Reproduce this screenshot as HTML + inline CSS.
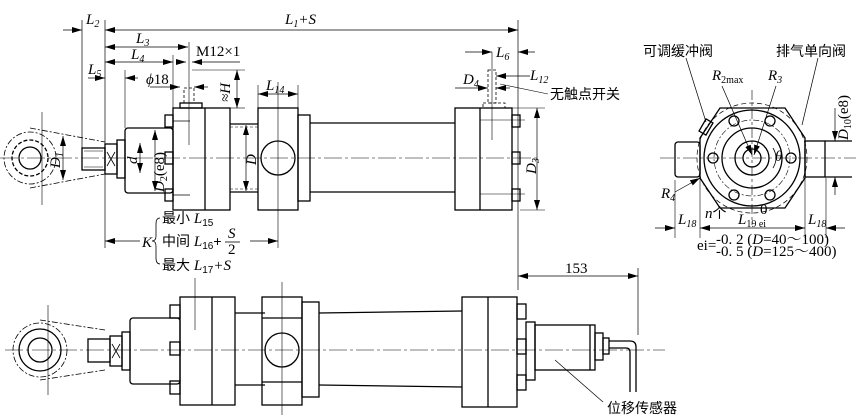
<!DOCTYPE html>
<html><head><meta charset="utf-8"><style>
body{margin:0;background:#fff}
svg{display:block}
text{font-family:"Liberation Serif","Noto Serif CJK SC",serif;font-size:15px;fill:#000}
.c{font-family:"Liberation Sans","Noto Sans CJK SC",sans-serif;font-size:14px}
.i{font-style:italic}
</style></head><body>
<svg width="856" height="420" viewBox="0 0 856 420" xmlns="http://www.w3.org/2000/svg">
<defs>
<marker id="a" viewBox="0 0 10 6" refX="10" refY="3" markerWidth="10" markerHeight="6" orient="auto-start-reverse" markerUnits="userSpaceOnUse"><path d="M0,0L10,3L0,6z"/></marker>
</defs>
<g fill="none" stroke="#000" stroke-width="1.3">
<!-- TOP VIEW -->
<line x1="0" y1="158" x2="540" y2="158" stroke-width="0.6" stroke-dasharray="18,3,3,3"/>
<circle cx="30" cy="158" r="26" stroke-dasharray="6,2,2,2" stroke-width="0.8"/>
<circle cx="30" cy="158" r="18" stroke-dasharray="4,2"/>
<circle cx="30" cy="158" r="11"/>
<path d="M30,128 L105,142 M30,188 L105,174" stroke-dasharray="6,2,2,2" stroke-width="0.8"/>
<line x1="42" y1="112" x2="42" y2="205" stroke-width="0.6"/>
<rect x="82" y="148" width="23" height="22"/><line x1="84" y1="151" x2="103" y2="151" stroke-width="0.6"/><line x1="84" y1="167" x2="103" y2="167" stroke-width="0.6"/>
<rect x="105" y="144" width="12" height="30"/><path d="M107,152L115,166M115,152L107,166" stroke-width="0.8"/>
<rect x="117" y="140" width="8" height="38"/>
<rect x="125" y="128" width="48" height="65" rx="3"/>
<rect x="173" y="108" width="57" height="102"/><line x1="205" y1="108" x2="205" y2="210"/>
<rect x="165" y="115" width="8" height="12"/><rect x="165" y="152" width="8" height="12"/><rect x="165" y="189" width="8" height="12"/>
<line x1="173" y1="121" x2="190" y2="121" stroke-width="0.7"/><line x1="173" y1="195" x2="190" y2="195" stroke-width="0.7"/>
<rect x="180" y="103" width="22" height="5"/><rect x="184" y="88" width="10" height="15" stroke-dasharray="3,2" stroke-width="0.8"/>
<line x1="189" y1="42" x2="189" y2="145" stroke-width="0.6"/>
<line x1="230" y1="124" x2="258" y2="124"/><line x1="230" y1="192" x2="258" y2="192"/>
<line x1="230" y1="127" x2="258" y2="127" stroke-dasharray="3,2" stroke-width="0.6"/><line x1="230" y1="189" x2="258" y2="189" stroke-dasharray="3,2" stroke-width="0.6"/>
<rect x="258" y="108" width="40" height="102"/><circle cx="278" cy="158" r="17"/>
<line x1="278" y1="82" x2="278" y2="248" stroke-width="0.6"/>
<rect x="298" y="115" width="12" height="86"/>
<line x1="310" y1="123" x2="455" y2="123"/><line x1="310" y1="192" x2="455" y2="192"/>
<rect x="455" y="108" width="57" height="102"/><line x1="480" y1="108" x2="480" y2="210"/>
<rect x="512" y="115" width="8" height="12"/><rect x="512" y="152" width="8" height="12"/><rect x="512" y="189" width="8" height="12"/>
<line x1="480" y1="120" x2="525" y2="120" stroke-width="0.6"/><line x1="480" y1="194" x2="525" y2="194" stroke-width="0.6"/>
<rect x="483" y="103" width="22" height="5" stroke-dasharray="3,2" stroke-width="0.8"/><rect x="488" y="70" width="8" height="33" stroke-dasharray="3,2" stroke-width="0.8"/>
<line x1="492" y1="52" x2="492" y2="140" stroke-width="0.6"/>
<!-- dims top -->
<line x1="82" y1="20" x2="82" y2="150" stroke-width="0.7"/><line x1="105" y1="20" x2="105" y2="248" stroke-width="0.7"/>
<line x1="518" y1="20" x2="518" y2="290" stroke-width="0.7"/>
<line x1="63" y1="30" x2="82" y2="30" marker-end="url(#a)" stroke-width="0.7"/>
<line x1="105" y1="30" x2="518" y2="30" marker-start="url(#a)" marker-end="url(#a)" stroke-width="0.7"/>
<line x1="105" y1="47" x2="188" y2="47" marker-start="url(#a)" marker-end="url(#a)" stroke-width="0.7"/>
<line x1="105" y1="62" x2="173" y2="62" marker-start="url(#a)" marker-end="url(#a)" stroke-width="0.7"/>
<line x1="173" y1="55" x2="173" y2="108" stroke-width="0.6"/>
<line x1="88" y1="78" x2="105" y2="78" marker-end="url(#a)" stroke-width="0.7"/><line x1="125" y1="78" x2="138" y2="78" marker-start="url(#a)" stroke-width="0.7"/>
<line x1="125" y1="70" x2="125" y2="128" stroke-width="0.6"/>
<line x1="176" y1="62" x2="186" y2="62" marker-end="url(#a)" stroke-width="0.7"/><line x1="192" y1="62" x2="240" y2="62" marker-start="url(#a)" stroke-width="0.7"/>
<line x1="150" y1="87" x2="180" y2="87" marker-end="url(#a)" stroke-width="0.7"/><line x1="194" y1="87" x2="208" y2="87" marker-start="url(#a)" stroke-width="0.7"/>
<line x1="192" y1="70" x2="245" y2="70" stroke-width="0.6"/><line x1="230" y1="108" x2="245" y2="108" stroke-width="0.6"/>
<line x1="237" y1="70" x2="237" y2="108" marker-start="url(#a)" marker-end="url(#a)" stroke-width="0.7"/>
<line x1="258" y1="85" x2="258" y2="108" stroke-width="0.6"/><line x1="298" y1="85" x2="298" y2="115" stroke-width="0.6"/>
<line x1="258" y1="94" x2="298" y2="94" marker-start="url(#a)" marker-end="url(#a)" stroke-width="0.7"/>
<line x1="246" y1="125" x2="246" y2="191" marker-start="url(#a)" marker-end="url(#a)" stroke-width="0.7"/>
<line x1="140" y1="143" x2="140" y2="173" marker-start="url(#a)" marker-end="url(#a)" stroke-width="0.7"/>
<line x1="155" y1="130" x2="155" y2="191" marker-start="url(#a)" marker-end="url(#a)" stroke-width="0.7"/>
<line x1="105" y1="241" x2="140" y2="241" marker-start="url(#a)" stroke-width="0.7"/><line x1="250" y1="241" x2="278" y2="241" marker-end="url(#a)" stroke-width="0.7"/>
<path d="M160,218 q-4,0 -4,6 v12 q0,5 -4,5 q4,0 4,5 v12 q0,6 4,6" stroke-width="0.8"/>
<line x1="63" y1="136" x2="63" y2="180" marker-start="url(#a)" marker-end="url(#a)" stroke-width="0.7"/>
<line x1="465" y1="52" x2="492" y2="52" marker-end="url(#a)" stroke-width="0.7"/><line x1="518" y1="52" x2="535" y2="52" marker-start="url(#a)" stroke-width="0.7"/>
<line x1="496" y1="76" x2="530" y2="76" marker-start="url(#a)" stroke-width="0.7"/>
<line x1="455" y1="88" x2="488" y2="88" marker-end="url(#a)" stroke-width="0.7"/><line x1="496" y1="88" x2="510" y2="88" marker-start="url(#a)" stroke-width="0.7"/>
<line x1="500" y1="84" x2="548" y2="94" stroke-width="0.6"/>
<line x1="512" y1="108" x2="545" y2="108" stroke-width="0.6"/><line x1="520" y1="210" x2="545" y2="210" stroke-width="0.6"/>
<line x1="537" y1="108" x2="537" y2="210" marker-start="url(#a)" marker-end="url(#a)" stroke-width="0.7"/>
<line x1="518" y1="276" x2="638" y2="276" marker-start="url(#a)" marker-end="url(#a)" stroke-width="0.7"/>
<line x1="638" y1="268" x2="638" y2="335" stroke-width="0.7"/>
<!-- END VIEW -->
<line x1="660" y1="158" x2="856" y2="158" stroke-width="0.6" stroke-dasharray="14,3,3,3"/>
<line x1="752" y1="90" x2="752" y2="225" stroke-width="0.6" stroke-dasharray="10,3,3,3"/>
<path d="M700,138 L720,108 L785,108 L805,138 L805,178 L785,208 L720,208 L700,178 Z"/>
<circle cx="752" cy="158" r="55" stroke-dasharray="5,3" stroke-width="0.7"/>
<circle cx="752" cy="158" r="48"/>
<circle cx="752" cy="158" r="38" stroke-dasharray="6,2,2,2" stroke-width="0.6"/>
<circle cx="752" cy="158" r="30"/><circle cx="752" cy="158" r="17"/><circle cx="752" cy="158" r="9"/>
<circle cx="734" cy="121" r="5"/><circle cx="770" cy="121" r="5"/><circle cx="713" cy="158" r="5"/><circle cx="791" cy="158" r="5"/><circle cx="734" cy="195" r="5"/><circle cx="770" cy="195" r="5"/>
<rect x="675" y="142" width="25" height="35" rx="3"/>
<rect x="805" y="141" width="20" height="36"/><line x1="825" y1="141" x2="852" y2="141"/><line x1="825" y1="177" x2="852" y2="177"/>
<rect x="702" y="120" width="8" height="14" transform="rotate(30 706 127)"/>
<line x1="686" y1="58" x2="706" y2="122" stroke-width="0.7"/>
<line x1="818" y1="58" x2="802" y2="125" stroke-width="0.7"/>
<line x1="722" y1="86" x2="752" y2="155" marker-end="url(#a)" stroke-width="0.7"/>
<line x1="776" y1="86" x2="754" y2="155" marker-end="url(#a)" stroke-width="0.7"/>
<line x1="675" y1="192" x2="700" y2="178" marker-end="url(#a)" stroke-width="0.7"/>
<path d="M773,148 q6,10 0,20" stroke-width="0.8"/>
<line x1="675" y1="180" x2="675" y2="238" stroke-width="0.6"/><line x1="700" y1="178" x2="700" y2="238" stroke-width="0.6"/>
<line x1="805" y1="178" x2="805" y2="238" stroke-width="0.6"/><line x1="826" y1="178" x2="826" y2="238" stroke-width="0.6"/>
<line x1="655" y1="228" x2="675" y2="228" marker-end="url(#a)" stroke-width="0.7"/>
<line x1="700" y1="228" x2="805" y2="228" marker-start="url(#a)" marker-end="url(#a)" stroke-width="0.7"/>
<line x1="845" y1="228" x2="826" y2="228" marker-end="url(#a)" stroke-width="0.7"/>
<line x1="835" y1="108" x2="835" y2="141" marker-end="url(#a)" stroke-width="0.7"/><line x1="835" y1="195" x2="835" y2="177" marker-end="url(#a)" stroke-width="0.7"/>
<!-- BOTTOM VIEW -->
<line x1="5" y1="350" x2="665" y2="350" stroke-width="0.6" stroke-dasharray="18,3,3,3"/>
<circle cx="40" cy="350" r="27" stroke-dasharray="6,2,2,2" stroke-width="0.8"/>
<circle cx="40" cy="350" r="21"/><circle cx="40" cy="350" r="12"/>
<path d="M40,320 L105,330 M40,380 L105,370" stroke-dasharray="6,2,2,2" stroke-width="0.8"/>
<line x1="48" y1="305" x2="48" y2="395" stroke-width="0.6"/>
<rect x="88" y="339" width="22" height="23"/>
<rect x="110" y="336" width="12" height="30"/><path d="M112,344L120,358M120,344L112,358" stroke-width="0.8"/>
<rect x="122" y="332" width="8" height="38"/>
<rect x="130" y="318" width="50" height="66" rx="3"/>
<rect x="180" y="297" width="55" height="108"/><line x1="212" y1="297" x2="212" y2="405"/>
<rect x="170" y="305" width="10" height="13"/><rect x="170" y="342" width="10" height="13"/><rect x="170" y="381" width="10" height="13"/>
<line x1="195" y1="278" x2="195" y2="330" stroke-width="0.6"/>
<line x1="235" y1="313" x2="265" y2="313"/><line x1="235" y1="385" x2="265" y2="385"/>
<rect x="262" y="297" width="40" height="108"/><circle cx="282" cy="350" r="17"/>
<line x1="262" y1="318" x2="302" y2="318"/><line x1="262" y1="382" x2="302" y2="382"/>
<line x1="282" y1="282" x2="282" y2="415" stroke-width="0.6"/>
<rect x="302" y="302" width="17" height="95"/>
<line x1="319" y1="313" x2="462" y2="311"/><line x1="319" y1="385" x2="462" y2="387"/>
<rect x="462" y="297" width="55" height="110"/><line x1="488" y1="297" x2="488" y2="407"/>
<rect x="517" y="304" width="9" height="15"/><rect x="517" y="339" width="9" height="15"/><rect x="517" y="375" width="9" height="15"/>
<rect x="526" y="322" width="9" height="58"/>
<rect x="535" y="325" width="60" height="45"/><line x1="590" y1="325" x2="590" y2="370"/>
<rect x="595" y="333" width="8" height="27"/><rect x="603" y="338" width="6" height="16"/>
<path d="M609,341 H630 q6,0 6,6 V392 M609,348 H626 q4,0 4,4 V392"/>
<line x1="555" y1="360" x2="603" y2="402" stroke-width="0.7"/>
</g>
<!-- TEXT -->
<text x="86" y="24" class="i">L<tspan font-size="10" dy="3">2</tspan></text>
<text x="285" y="24" class="i">L<tspan font-size="10" dy="3">1</tspan><tspan dy="-3">+S</tspan></text>
<text x="136" y="43" class="i">L<tspan font-size="10" dy="3">3</tspan></text>
<text x="131" y="59" class="i">L<tspan font-size="10" dy="3">4</tspan></text>
<text x="196" y="56">M12×1</text>
<text x="88" y="74" class="i">L<tspan font-size="10" dy="3">5</tspan></text>
<text x="146" y="84"><tspan class="i">ϕ</tspan>18</text>
<text x="0" y="0" class="i" transform="translate(230,102) rotate(-90)">≈H</text>
<text x="266" y="90" class="i">L<tspan font-size="10" dy="3">14</tspan></text>
<text x="0" y="0" class="i" transform="translate(256,165) rotate(-90)">D</text>
<text x="0" y="0" class="i" transform="translate(137,164) rotate(-90)">d</text>
<text x="0" y="0" transform="translate(164,192) rotate(-90)"><tspan class="i">D</tspan><tspan font-size="10" dy="3">2</tspan><tspan dy="-3">(e8)</tspan></text>
<text x="0" y="0" class="i" transform="translate(60,168) rotate(-90)">D<tspan font-size="10" dy="3">1</tspan></text>
<text x="142" y="247" class="i">K</text>
<text x="162" y="223" class="c">最小 <tspan class="i" font-family="Liberation Serif" font-size="15">L</tspan><tspan font-size="10" dy="3">15</tspan></text>
<text x="162" y="246" class="c">中间 <tspan class="i" font-family="Liberation Serif" font-size="15">L</tspan><tspan font-size="10" dy="3">16</tspan><tspan dy="-3">+</tspan></text>
<text x="228" y="238" class="i" font-size="13">S</text><line x1="225" y1="242" x2="240" y2="242" stroke="#000" stroke-width="0.8"/><text x="228" y="254" font-size="13">2</text>
<text x="162" y="270" class="c">最大 <tspan class="i" font-family="Liberation Serif" font-size="15">L</tspan><tspan font-size="10" dy="3">17</tspan><tspan dy="-3" class="i" font-family="Liberation Serif" font-size="15">+S</tspan></text>
<text x="496" y="57" class="i">L<tspan font-size="10" dy="3">6</tspan></text>
<text x="530" y="80" class="i">L<tspan font-size="10" dy="3">12</tspan></text>
<text x="463" y="84" class="i">D<tspan font-size="10" dy="3">4</tspan></text>
<text x="550" y="99" class="c">无触点开关</text>
<text x="0" y="0" class="i" transform="translate(536,174) rotate(-90)">D<tspan font-size="10" dy="3">3</tspan></text>
<text x="565" y="273">153</text>
<text x="643" y="56" class="c">可调缓冲阀</text>
<text x="776" y="56" class="c">排气单向阀</text>
<text x="712" y="80" class="i">R<tspan font-size="10" dy="3" font-style="normal">2max</tspan></text>
<text x="768" y="80" class="i">R<tspan font-size="10" dy="3">3</tspan></text>
<text x="775" y="161" class="i">θ</text>
<text x="0" y="0" transform="translate(848,140) rotate(-90)"><tspan class="i">D</tspan><tspan font-size="10" dy="3">10</tspan><tspan dy="-3">(e8)</tspan></text>
<text x="661" y="198" class="i">R<tspan font-size="10" dy="3">4</tspan></text>
<text x="678" y="224" class="i">L<tspan font-size="10" dy="3">18</tspan></text>
<text x="705" y="218"><tspan class="i">n</tspan><tspan class="c">个</tspan></text>
<text x="738" y="224" class="i">L<tspan font-size="10" dy="3" font-style="normal">19 ei</tspan></text>
<text x="760" y="214" font-size="10">0</text>
<text x="808" y="224" class="i">L<tspan font-size="10" dy="3">18</tspan></text>
<text x="697" y="250" font-size="11">ei=</text>
<text x="716" y="244" font-size="10">-0. 2 (<tspan class="i">D</tspan>=40～100)</text>
<text x="716" y="256" font-size="10">-0. 5 (<tspan class="i">D</tspan>=125～400)</text>
<text x="607" y="413" class="c">位移传感器</text>
</svg>
</body></html>
